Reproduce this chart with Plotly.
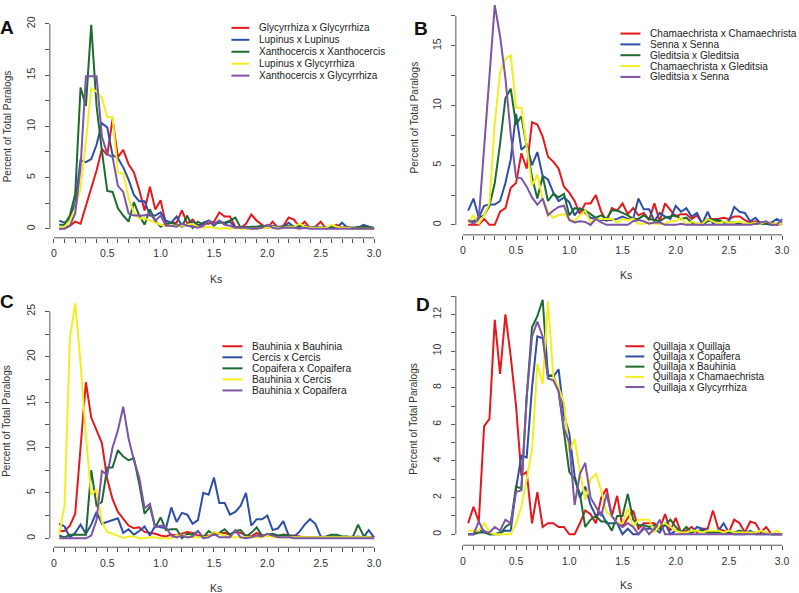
import plotly.graph_objects as go

# ---------------- data ----------------
KS = [round(0.05 * i, 2) for i in range(1, 61)]

X_TICKS = [round(0.1 * i, 1) for i in range(0, 31)]
X_TICK_LABELS = {0.0: "0", 0.5: "0.5", 1.0: "1.0", 1.5: "1.5", 2.0: "2.0", 2.5: "2.5", 3.0: "3.0"}

A_NAMES = ["Glycyrrhiza x Glycyrrhiza", "Lupinus x Lupinus", "Xanthocercis x Xanthocercis",
           "Lupinus x Glycyrrhiza", "Xanthocercis x Glycyrrhiza"]
A_RED = [0.0, 0.1, 0.3, 0.7, 0.5, 2.2, 4.0, 5.7, 7.8, 7.2,
         10.7, 7.0, 7.7, 6.3, 5.5, 3.8, 1.8, 4.1, 1.9, 2.8,
         0.4, 0.6, 0.6, 1.8, 0.5, 0.9, 0.3, 0.5, 0.5, 0.7,
         1.6, 1.2, 1.2, 0.2, 0.1, 0.5, 1.4, 0.8, 0.4, 0.1,
         0.7, 0.1, 0.3, 1.1, 0.9, 0.2, 0.7, 0.1, 0.2, 0.7,
         0.0, 0.2, 0.4, 0.1, 0.2, 0.0, 0.2, 0.1, 0.1, 0.0]
A_BLUE = [0.8, 0.6, 1.0, 2.5, 6.7, 6.5, 6.8, 8.2, 10.3, 9.9,
          7.2, 6.9, 6.0, 4.8, 3.3, 2.7, 2.7, 1.3, 1.3, 1.6,
          0.8, 0.6, 1.2, 0.3, 0.4, 0.7, 0.3, 0.6, 0.8, 0.3,
          0.8, 0.5, 0.7, 0.1, 0.1, 0.2, 0.1, 0.1, 0.2, 0.1,
          0.3, 0.2, 0.2, 0.6, 0.2, 0.2, 0.3, 0.1, 0.2, 0.1,
          0.1, 0.2, 0.1, 0.6, 0.1, 0.1, 0.1, 0.4, 0.2, 0.1]
A_GREEN = [0.4, 0.4, 1.3, 3.4, 13.8, 12.0, 19.9, 12.0, 7.6, 3.7,
           3.6, 2.0, 1.3, 0.7, 2.6, 1.3, 0.4, 1.9, 0.8, 0.2,
           0.5, 0.6, 0.4, 0.2, 1.3, 0.1, 0.7, 0.4, 0.8, 0.5,
           0.6, 0.6, 0.8, 1.1, 0.1, 0.1, 0.2, 0.2, 0.3, 0.2,
           0.2, 0.1, 0.2, 0.3, 0.2, 0.4, 0.2, 0.1, 0.1, 0.1,
           0.1, 0.1, 0.1, 0.1, 0.1, 0.1, 0.1, 0.2, 0.2, 0.0]
A_YELLOW = [0.1, 0.2, 0.8, 2.0, 4.0, 8.5, 13.7, 13.4, 12.8, 10.9,
            10.9, 5.5, 5.4, 3.0, 1.6, 1.0, 1.0, 0.8, 0.6, 0.4,
            0.3, 0.3, 0.3, 0.3, 0.4, 0.5, 0.2, 0.1, 0.2, 0.1,
            0.0, 0.1, 0.0, 0.1, 0.0, 0.0, 0.0, 0.0, 0.1, 0.1,
            0.2, 0.1, 0.1, 0.2, 0.2, 0.5, 0.2, 0.1, 0.1, 0.1,
            0.1, 0.4, 0.2, 0.1, 0.1, 0.0, 0.0, 0.0, 0.0, 0.0]
A_PURPLE = [0.0, 0.0, 0.3, 1.5, 6.0, 14.9, 14.9, 14.9, 9.0, 7.3,
            7.0, 4.2, 3.6, 1.5, 1.3, 1.3, 1.3, 1.5, 0.8, 1.3,
            0.3, 0.3, 0.2, 0.5, 0.3, 0.2, 0.1, 0.3, 0.8, 0.5,
            0.8, 0.4, 0.3, 0.1, 0.1, 0.1, 0.0, 0.0, 0.1, 0.4,
            0.1, 0.0, 0.1, 0.1, 0.1, 0.0, 0.1, 0.0, 0.0, 0.0,
            0.0, 0.0, 0.0, 0.0, 0.0, 0.0, 0.0, 0.0, 0.0, 0.0]

B_NAMES = ["Chamaechrista x Chamaechrista", "Senna x Senna", "Gleditsia x Gleditsia",
           "Chamaechrista x Gleditsia", "Gleditsia x Senna"]
B_RED = [0.0, 0.0, 0.0, 0.5, 0.0, 0.0, 1.1, 1.4, 3.1, 3.5,
         6.0, 4.7, 8.6, 8.4, 7.4, 5.7, 5.3, 4.7, 3.2, 2.7,
         2.0, 0.9, 1.8, 1.8, 2.5, 1.1, 0.3, 1.4, 1.2, 1.8,
         0.9, 1.4, 0.8, 1.0, 0.4, 1.8, 0.3, 1.8, 1.2, 0.7,
         0.9, 0.9, 0.5, 0.8, 0.1, 0.5, 0.5, 0.5, 0.6, 0.5,
         0.7, 0.7, 0.4, 0.2, 0.3, 0.2, 0.1, 0.2, 0.0, 0.1]
B_BLUE = [1.2, 2.2, 0.6, 1.6, 1.7, 1.7, 2.0, 3.5, 5.5, 9.3,
          6.3, 6.7, 5.0, 6.1, 4.1, 3.8, 2.7, 2.0, 2.3, 1.9,
          0.8, 1.4, 1.0, 0.6, 0.5, 0.4, 0.4, 0.4, 0.5, 0.7,
          0.5, 0.5, 2.2, 1.3, 1.3, 0.3, 1.0, 0.7, 0.5, 1.6,
          1.1, 1.4, 0.7, 1.0, 0.1, 1.1, 0.1, 0.4, 0.2, 0.3,
          1.5, 1.1, 1.0, 0.3, 0.6, 0.1, 0.1, 0.2, 0.5, 0.2]
B_GREEN = [0.3, 0.3, 0.6, 0.8, 1.6, 3.5, 6.8, 10.6, 11.4, 8.4,
           9.1, 6.4, 4.0, 2.2, 4.1, 2.0, 2.6, 2.3, 2.6, 0.8,
           1.4, 1.3, 1.2, 0.9, 0.6, 0.8, 0.5, 1.2, 1.2, 1.0,
           0.8, 0.5, 0.5, 0.8, 0.5, 0.4, 0.3, 0.6, 0.7, 0.8,
           0.5, 0.6, 0.2, 0.1, 0.0, 0.3, 0.4, 0.4, 0.2, 0.2,
           0.2, 0.1, 0.1, 0.1, 0.1, 0.1, 0.1, 0.0, 0.1, 0.1]
B_YELLOW = [0.2, 0.8, 0.1, 0.8, 1.8, 8.5, 12.8, 13.9, 14.2, 9.8,
            9.8, 6.4, 3.3, 4.2, 2.2, 1.1, 0.6, 0.8, 0.9, 0.5,
            0.3, 0.8, 1.2, 0.2, 0.5, 0.5, 0.5, 0.5, 0.2, 0.5,
            0.4, 0.5, 0.1, 0.1, 0.2, 0.1, 0.1, 0.1, 0.3, 0.3,
            0.6, 0.0, 0.3, 0.1, 0.1, 0.5, 0.3, 0.1, 0.3, 0.2,
            0.2, 0.3, 0.1, 0.1, 0.2, 0.1, 0.3, 0.1, 0.1, 0.1]
B_PURPLE = [0.4, 0.1, 0.5, 6.5, 12.5, 18.4, 15.8, 12.3, 7.6, 4.0,
            3.9, 3.2, 2.3, 1.7, 2.2, 0.8, 1.2, 1.5, 1.6, 0.4,
            0.2, 0.3, 0.25, 0.0, 0.5, 0.2, 0.0, 0.0, 0.0, 0.0,
            0.0, 0.3, 0.4, 0.3, 0.1, 0.2, 0.2, 0.0, 0.0, 0.0,
            0.1, 0.0, 0.0, 0.0, 0.0, 0.0, 0.0, 0.0, 0.0, 0.0,
            0.0, 0.0, 0.0, 0.0, 0.1, 0.2, 0.3, 0.0, 0.0, 0.5]

C_NAMES = ["Bauhinia x Bauhinia", "Cercis x Cercis", "Copaifera x Copaifera",
           "Bauhinia x Cercis", "Bauhinia x Copaifera"]
C_RED = [0.8, 0.8, 1.4, 2.7, 10.0, 17.2, 13.3, 11.8, 10.5, 6.5,
         4.3, 2.9, 2.1, 1.4, 1.1, 1.2, 0.7, 0.6, 0.5, 0.3,
         0.2, 0.4, 0.3, 0.5, 0.7, 0.6, 0.3, 0.2, 0.3, 0.4,
         0.5, 0.6, 0.4, 0.7, 0.6, 0.3, 0.2, 0.6, 0.3, 0.3,
         0.4, 0.2, 0.4, 0.3, 0.3, 0.2, 0.1, 0.1, 0.1, 0.1,
         0.1, 0.1, 0.1, 0.1, 0.1, 0.2, 0.1, 0.1, 0.1, 0.1]
C_BLUE = [1.6, 1.3, 0.1, 0.6, 1.5, 0.5, 1.5, 2.9, 1.6, 1.8,
          2.0, 2.2, 0.6, 1.0, 0.4, 0.8, 1.3, 0.3, 1.4, 1.2,
          1.1, 3.4, 1.8, 2.8, 2.6, 1.6, 2.0, 5.0, 4.8, 6.7,
          3.9, 3.9, 2.6, 2.9, 3.6, 5.0, 1.4, 2.1, 2.1, 2.5,
          0.9, 1.1, 1.9, 0.3, 0.2, 0.7, 1.5, 2.1, 1.6, 0.2,
          0.1, 0.2, 0.2, 0.1, 0.1, 0.1, 0.2, 0.1, 0.9, 0.1]
C_GREEN = [0.3, 0.1, 0.4, 0.4, 0.4, 0.4, 7.5, 3.6, 4.0, 7.8,
           7.8, 9.7, 9.0, 8.6, 8.8, 6.0, 2.7, 3.5, 1.2, 2.3,
           0.9, 1.0, 1.0, 0.0, 0.5, 0.4, 0.8, 0.1, 0.8, 0.4,
           0.6, 1.0, 0.4, 0.8, 0.9, 0.2, 0.6, 1.2, 0.3, 0.4,
           0.5, 0.3, 0.4, 0.3, 0.1, 0.1, 0.1, 0.1, 0.1, 0.1,
           0.2, 0.4, 0.4, 0.2, 0.2, 0.1, 1.5, 0.3, 0.1, 0.0]
C_YELLOW = [0.5, 3.6, 22.0, 25.9, 19.3, 11.3, 4.8, 5.4, 1.8, 0.7,
            0.5, 0.3, 0.0, 0.2, 0.2, 0.0, 0.0, 0.1, 0.1, 0.0,
            0.0, 0.0, 0.3, 0.3, 0.2, 0.1, 0.1, 0.1, 0.2, 0.7,
            0.5, 0.3, 0.1, 0.1, 0.1, 0.1, 0.1, 0.1, 0.1, 0.3,
            0.1, 0.1, 0.1, 0.1, 0.1, 0.1, 0.1, 0.1, 0.1, 0.1,
            0.1, 0.1, 0.1, 0.1, 0.1, 0.1, 0.1, 0.1, 0.1, 0.0]
C_PURPLE = [0.0, 0.0, 0.0, 0.0, 0.0, 0.0, 0.3, 2.0, 7.4, 7.0,
            10.0, 11.9, 14.5, 11.0, 8.6, 6.7, 3.3, 3.8, 1.2, 1.4,
            1.2, 0.3, 0.1, 0.3, 0.1, 0.2, 0.8, 0.0, 0.1, 0.5,
            0.1, 0.1, 0.1, 0.9, 0.1, 0.0, 0.1, 0.3, 0.2, 0.5,
            0.3, 0.1, 0.1, 0.1, 0.0, 0.0, 0.0, 0.0, 0.0, 0.0,
            0.0, 0.0, 0.0, 0.0, 0.0, 0.0, 0.0, 0.0, 0.0, 0.0]

D_NAMES = ["Quillaja x Quillaja", "Quillaja x Copaifera", "Quillaja x Bauhinia",
           "Quillaja x Chamaechrista", "Quillaja x Glycyrrhiza"]
D_RED = [0.6, 1.5, 0.7, 5.9, 6.3, 11.7, 8.75, 12.0, 9.7, 7.0,
         3.2, 3.4, 0.6, 2.3, 0.4, 0.6, 0.6, 0.4, 0.4, 0.0,
         0.0, 0.6, 1.3, 1.1, 0.6, 2.0, 2.5, 1.0, 2.1, 0.4,
         0.9, 1.3, 0.3, 0.6, 0.6, 0.6, 0.3, 1.1, 0.2, 0.9,
         0.1, 0.2, 0.4, 0.1, 0.3, 0.3, 1.3, 0.3, 0.2, 0.1,
         0.8, 0.6, 0.1, 0.7, 0.6, 0.1, 0.4, 0.0, 0.0, 0.0]
D_BLUE = [0.0, 0.0, 0.2, 0.2, 0.0, 0.0, 0.1, 0.2, 0.2, 2.5,
          4.3, 4.2, 8.0, 10.8, 10.7, 8.7, 8.6, 9.0, 6.5, 5.5,
          3.2, 2.0, 2.6, 1.6, 1.0, 1.2, 0.6, 0.6, 0.6, 0.0,
          0.3, 0.0, 0.0, 0.3, 0.3, 0.3, 0.1, 0.6, 0.0, 0.2,
          0.1, 0.1, 0.1, 0.4, 0.3, 0.2, 0.1, 0.2, 0.6, 0.1,
          0.0, 0.0, 0.0, 0.2, 0.0, 0.0, 0.0, 0.0, 0.0, 0.0]
D_GREEN = [0.0, 0.0, 0.1, 0.1, 0.0, 0.0, 0.0, 0.4, 0.6, 2.6,
           2.5, 7.5, 11.3, 11.9, 12.8, 8.6, 8.7, 7.8, 5.6, 3.4,
           3.0, 2.2, 0.4, 0.8, 1.0, 0.7, 0.7, 0.2, 1.0, 1.0,
           2.2, 0.8, 0.5, 0.5, 0.4, 0.5, 0.3, 0.5, 0.8, 0.4,
           0.1, 0.4, 0.1, 0.2, 0.2, 0.1, 0.1, 0.1, 0.1, 0.1,
           0.1, 0.2, 0.1, 0.1, 0.1, 0.0, 0.1, 0.0, 0.0, 0.0]
D_YELLOW = [0.2, 0.2, 0.2, 0.6, 0.1, 0.0, 0.0, 0.0, 0.0, 0.6,
            1.5, 3.0, 4.6, 9.3, 8.2, 12.7, 8.6, 8.0, 7.2, 4.5,
            5.2, 3.4, 1.9, 3.0, 3.3, 2.4, 1.2, 1.0, 0.6, 0.6,
            1.4, 0.4, 0.8, 0.8, 0.8, 0.1, 0.5, 0.6, 0.4, 0.2,
            0.1, 0.1, 0.2, 0.2, 0.1, 0.2, 0.2, 0.2, 0.1, 0.2,
            0.1, 0.1, 0.1, 0.1, 0.1, 0.2, 0.1, 0.0, 0.2, 0.0]
D_PURPLE = [0.0, 0.0, 0.7, 0.1, 0.1, 0.4, 0.2, 0.8, 0.6, 2.3,
            2.4, 7.5, 10.8, 11.6, 10.8, 8.5, 8.4, 7.8, 5.8, 5.0,
            1.6, 3.3, 3.9, 2.0, 1.5, 1.0, 2.2, 1.0, 0.6, 0.4,
            0.6, 0.4, 0.0, 0.4, 0.0, 0.3, 0.8, 0.0, 0.0, 0.0,
            0.0, 0.0, 0.0, 0.0, 0.0, 0.0, 0.0, 0.0, 0.0, 0.0,
            0.0, 0.0, 0.0, 0.0, 0.0, 0.0, 0.0, 0.0, 0.0, 0.0]

A_Y_TICKS = [0, 2.5, 5, 7.5, 10, 12.5, 15, 17.5, 20]
B_Y_TICKS = [0, 2.5, 5, 7.5, 10, 12.5, 15, 17.5]
C_Y_TICKS = [0, 2.5, 5, 7.5, 10, 12.5, 15, 17.5, 20, 22.5, 25]
D_Y_TICKS = [0, 1, 2, 3, 4, 5, 6, 7, 8, 9, 10, 11, 12, 13]
A_Y_LABELED = [0, 5, 10, 15, 20]
B_Y_LABELED = [0, 5, 10, 15]
C_Y_LABELED = [0, 5, 10, 15, 20, 25]
D_Y_LABELED = [0, 2, 4, 6, 8, 10, 12]

# ---------------- style / layout ----------------
COLORS = ["#E4181D", "#2E4FA6", "#1C6B31", "#F3EE1F", "#7D54A6"]
FONT = "Liberation Sans, Arial, Helvetica, sans-serif"
AXIS_COLOR = "#555555"
TEXT_COLOR = "#333333"
W, H = 799, 593


def fx(px):
    return px / W


def fy(py):
    return 1 - py / H


PANELS = [
    dict(letter="A", names=A_NAMES, series=[A_RED, A_BLUE, A_GREEN, A_YELLOW, A_PURPLE],
         yticks=A_Y_TICKS, ylab=A_Y_LABELED,
         x0=54, sx=107.0, L=50, R=380, Z=227, S=10.3, B=236, T=16,
         letter_xy=(7, 25), ks_xy=(217, 277), yt_xy=(7, 124),
         leg_line=(232, 250), leg_text=259, leg_y0=25, leg_dy=12.0, leg_fs=10),
    dict(letter="B", names=B_NAMES, series=[B_RED, B_BLUE, B_GREEN, B_YELLOW, B_PURPLE],
         yticks=B_Y_TICKS, ylab=B_Y_LABELED,
         x0=464, sx=106.7, L=457, R=790, Z=223, S=12.0, B=233, T=0,
         letter_xy=(422, 26), ks_xy=(628, 273), yt_xy=(415, 115),
         leg_line=(622, 642), leg_text=651, leg_y0=30.7, leg_dy=10.9, leg_fs=10.1),
    dict(letter="C", names=C_NAMES, series=[C_RED, C_BLUE, C_GREEN, C_YELLOW, C_PURPLE],
         yticks=C_Y_TICKS, ylab=C_Y_LABELED,
         x0=54, sx=107.0, L=50, R=380, Z=538, S=9.12, B=547, T=297,
         letter_xy=(7, 300), ks_xy=(217, 588), yt_xy=(7, 420),
         leg_line=(223, 243), leg_text=252, leg_y0=345, leg_dy=11.1, leg_fs=10.2),
    dict(letter="D", names=D_NAMES, series=[D_RED, D_BLUE, D_GREEN, D_YELLOW, D_PURPLE],
         yticks=D_Y_TICKS, ylab=D_Y_LABELED,
         x0=464, sx=106.7, L=457, R=790, Z=534, S=18.42, B=545, T=293,
         letter_xy=(424, 303), ks_xy=(628, 585), yt_xy=(415, 418),
         leg_line=(627, 646), leg_text=654, leg_y0=345, leg_dy=10.25, leg_fs=10),
]

fig = go.Figure()
shapes = []
annotations = []
layout = {}

for i, p in enumerate(PANELS):
    n = "" if i == 0 else str(i + 1)
    xa, ya = "x" + n, "y" + n
    for name, vals, col in zip(p["names"], p["series"], COLORS):
        fig.add_trace(go.Scatter(x=KS, y=vals, mode="lines", name=name,
                                 line=dict(color=col, width=2),
                                 xaxis=xa, yaxis=ya, showlegend=False))
    xr = [(p["L"] - p["x0"]) / p["sx"], (p["R"] - p["x0"]) / p["sx"]]
    yr = [-(p["B"] - p["Z"]) / p["S"], (p["Z"] - p["T"]) / p["S"]]
    layout["xaxis" + n] = dict(
        domain=[fx(p["L"]), fx(p["R"])], range=xr, anchor=ya,
        tickmode="array", tickvals=X_TICKS,
        ticktext=[X_TICK_LABELS.get(v, "") for v in X_TICKS],
        ticks="outside", ticklen=4, tickwidth=1, tickcolor=AXIS_COLOR,
        showline=False, showgrid=False, zeroline=False,
        tickfont=dict(family=FONT, size=10.5, color=TEXT_COLOR),
        ticklabelstandoff=2, fixedrange=True)
    layout["yaxis" + n] = dict(
        domain=[fy(p["B"]), fy(p["T"])], range=yr, anchor=xa,
        tickmode="array", tickvals=p["yticks"],
        ticktext=[(("%g" % v) if v in p["ylab"] else "") for v in p["yticks"]],
        ticks="outside", ticklen=4, tickwidth=1, tickcolor=AXIS_COLOR,
        tickangle=-90, showline=False, showgrid=False, zeroline=False,
        tickfont=dict(family=FONT, size=10.5, color=TEXT_COLOR),
        ticklabelstandoff=6, fixedrange=True)
    # R-style detached axis lines (span first to last tick)
    shapes.append(dict(type="line", xref=xa, yref=ya + " domain", x0=X_TICKS[0], x1=X_TICKS[-1],
                       y0=0, y1=0, line=dict(color=AXIS_COLOR, width=1)))
    shapes.append(dict(type="line", xref=xa + " domain", yref=ya, x0=0, x1=0,
                       y0=p["yticks"][0], y1=p["yticks"][-1], line=dict(color=AXIS_COLOR, width=1)))
    # legend (R style)
    for k, (name, col) in enumerate(zip(p["names"], COLORS)):
        yy = p["leg_y0"] + k * p["leg_dy"]
        shapes.append(dict(type="line", xref="paper", yref="paper",
                           x0=fx(p["leg_line"][0]), x1=fx(p["leg_line"][1]),
                           y0=fy(yy), y1=fy(yy), line=dict(color=col, width=2)))
        annotations.append(dict(text=name, xref="paper", yref="paper", x=fx(p["leg_text"]), y=fy(yy),
                                xanchor="left", yanchor="middle", showarrow=False, borderpad=0,
                                font=dict(family=FONT, size=p["leg_fs"], color="#222222")))
    # titles and panel letter
    annotations.append(dict(text="Ks", xref="paper", yref="paper", x=fx(p["ks_xy"][0]), y=fy(p["ks_xy"][1]),
                            xanchor="center", yanchor="middle", showarrow=False,
                            font=dict(family=FONT, size=10.5, color=TEXT_COLOR)))
    annotations.append(dict(text="Percent of Total Paralogs", xref="paper", yref="paper",
                            x=fx(p["yt_xy"][0]), y=fy(p["yt_xy"][1]), textangle=-90,
                            xanchor="center", yanchor="middle", showarrow=False,
                            font=dict(family=FONT, size=10, color=TEXT_COLOR)))
    annotations.append(dict(text="<b>%s</b>" % p["letter"], xref="paper", yref="paper",
                            x=fx(p["letter_xy"][0]), y=fy(p["letter_xy"][1]),
                            xanchor="center", yanchor="middle", showarrow=False,
                            font=dict(family=FONT, size=19, color="#111111")))

fig.update_layout(
    width=W, height=H, autosize=False,
    margin=dict(l=0, r=0, t=0, b=0, pad=0),
    paper_bgcolor="white", plot_bgcolor="white",
    showlegend=False, shapes=shapes, annotations=annotations,
    **layout)

fig.write_html("out.html",
               config={"displayModeBar": False},
               post_script="document.body.style.margin='0';document.body.style.padding='0';")
